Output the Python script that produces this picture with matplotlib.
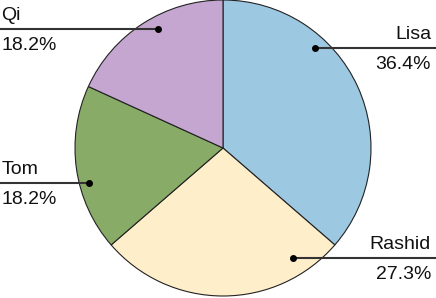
import matplotlib
matplotlib.use('Agg')
import matplotlib.pyplot as plt

# data
names  = ['Lisa', 'Rashid', 'Tom', 'Qi']
values = [4, 3, 2, 2]
colors = ['#9dc8e2', '#ffeeca', '#89ab68', '#c4a6d0']

# label layout (pixel coords, y from top): dot position, which side the text goes
dots  = [(315, 48), (293, 258), (89, 183), (158, 29)]
sides = ['right', 'right', 'left', 'left']

W, H = 436, 298
plt.rcParams['font.family'] = ['Liberation Sans', 'DejaVu Sans']

fig = plt.figure(figsize=(W/100, H/100), dpi=100)
ax = fig.add_axes([0, 0, 1, 1])
ax.axis('off')

wedges, _ = ax.pie(values, colors=colors, startangle=90, counterclock=False,
                   center=(223, 150), radius=148,
                   wedgeprops=dict(edgecolor='#222222', linewidth=0.8))
ax.set_xlim(0, W)
ax.set_ylim(0, H)
ax.set_aspect('equal')

total = float(sum(values))
for name, v, (px, py), side in zip(names, values, dots, sides):
    y = H - py
    pct = '%.1f%%' % (100*v/total)
    if side == 'right':
        ax.plot([px, W], [y, y], color='#333333', lw=1.5, solid_capstyle='butt')
        tx, ha = W - 5, 'right'
    else:
        ax.plot([0, px], [y, y], color='#333333', lw=1.5, solid_capstyle='butt')
        tx, ha = 1.5, 'left'
    ax.plot(px, y, 'o', color='black', ms=4)
    ax.text(tx, y + 9, name, ha=ha, va='baseline', fontsize=14, color='#111111')
    ax.text(tx, y - 21, pct, ha=ha, va='baseline', fontsize=14, color='#111111')

fig.savefig('out.png', dpi=100)
